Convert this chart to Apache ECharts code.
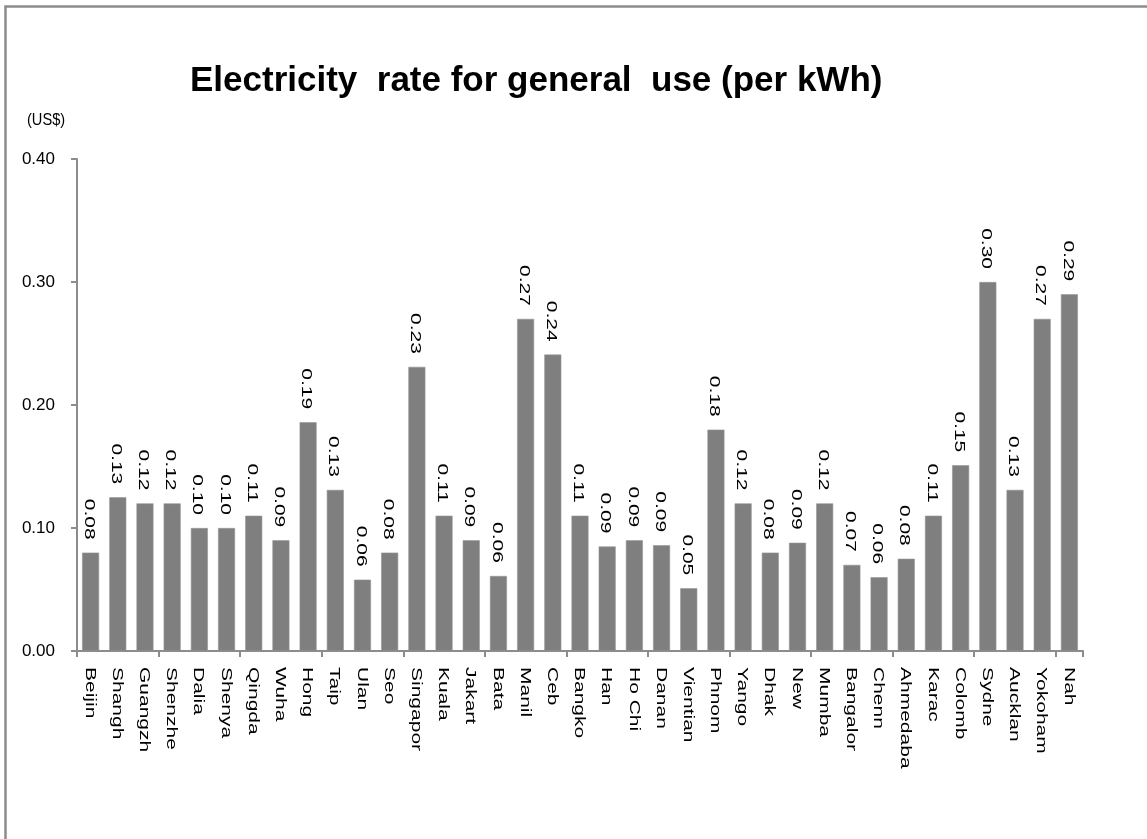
<!DOCTYPE html>
<html>
<head>
<meta charset="utf-8">
<title>Electricity rate for general use</title>
<script src="https://cdn.jsdelivr.net/npm/echarts@6/dist/echarts.min.js"></script>
<style>
  html, body { margin: 0; padding: 0; background: #fff; }
  #chart { width: 1147px; height: 839px; }
</style>
</head>
<body>
<div id="chart"></div>
<script>
// City names as printed under each bar
const cities = [
  'Beijin', 'Shangh', 'Guangzh', 'Shenzhe', 'Dalia', 'Shenya', 'Qingda', 'Wuha',
  'Hong', 'Taip', 'Ulan', 'Seo', 'Singapor', 'Kuala', 'Jakart', 'Bata', 'Manil',
  'Ceb', 'Bangko', 'Han', 'Ho Chi', 'Danan', 'Vientian', 'Phnom', 'Yango', 'Dhak',
  'New', 'Mumba', 'Bangalor', 'Chenn', 'Ahmedaba', 'Karac', 'Colomb', 'Sydne',
  'Aucklan', 'Yokoham', 'Nah'
];

// Electricity rate for general use, US$ per kWh
const rates = [
  0.080, 0.125, 0.120, 0.120, 0.100, 0.100, 0.110, 0.090,
  0.186, 0.131, 0.058, 0.080, 0.231, 0.110, 0.090, 0.061, 0.270,
  0.241, 0.110, 0.085, 0.090, 0.086, 0.051, 0.180, 0.120, 0.080,
  0.088, 0.120, 0.070, 0.060, 0.075, 0.110, 0.151, 0.300,
  0.131, 0.270, 0.290
];

// Value axis ticks
const yTicks = [0, 0.1, 0.2, 0.3, 0.4];

const FONT = "'Liberation Sans', Arial, sans-serif";
const STRETCH = 1.5;   // rotated labels are drawn elongated along their reading direction

const fmt = v => (Math.round(v * 100 + 1e-9) / 100).toFixed(2);

const chart = echarts.init(document.getElementById('chart'), null, { renderer: 'canvas' });

const option = {
  animation: false,
  backgroundColor: '#ffffff',
  grid: { left: 77, right: 64, top: 159, bottom: 188, containLabel: false },
  graphic: [
    {
      type: 'rect',
      shape: { x: 5.5, y: 6.5, width: 1300, height: 1000 },
      style: { fill: 'none', stroke: '#8c8c8c', lineWidth: 2.5 },
      silent: true
    },
    {
      type: 'text',
      x: 190, y: 81,
      style: {
        text: 'Electricity  rate for general  use (per kWh)',
        font: 'bold 35px ' + FONT,
        fill: '#000',
        align: 'left',
        verticalAlign: 'middle'
      }
    },
    {
      type: 'text',
      x: 27, y: 120,
      scaleX: 0.86,
      style: {
        text: '(US$)',
        font: '17px ' + FONT,
        fill: '#000',
        align: 'left',
        verticalAlign: 'middle'
      }
    }
  ],
  xAxis: {
    type: 'category',
    data: cities,
    boundaryGap: true,
    axisLine: { show: true, lineStyle: { color: '#8c8c8c', width: 2 } },
    axisTick: { show: true, alignWithLabel: false, length: 6, lineStyle: { color: '#8c8c8c', width: 2 } },
    axisLabel: { show: false },
    splitLine: { show: false }
  },
  yAxis: {
    type: 'value',
    min: yTicks[0],
    max: yTicks[yTicks.length - 1],
    interval: 0.1,
    axisLine: { show: true, lineStyle: { color: '#8c8c8c', width: 2 } },
    axisTick: { show: true, inside: false, length: 6, lineStyle: { color: '#8c8c8c', width: 2 } },
    axisLabel: {
      margin: 22,
      fontSize: 17,
      fontFamily: FONT,
      color: '#000',
      formatter: v => v.toFixed(2)
    },
    splitLine: { show: false }
  },
  series: [
    {
      name: 'rate',
      type: 'bar',
      data: rates,
      barWidth: 17,
      itemStyle: { color: '#7f7f7f', borderColor: '#969696', borderWidth: 0.6 },
      silent: true
    },
    {
      // value labels, read top to bottom above each bar
      name: 'values',
      type: 'custom',
      clip: false,
      silent: true,
      data: rates.map((v, i) => [i, v]),
      renderItem: (params, api) => {
        const v = api.value(1);
        const p = api.coord([api.value(0), v]);
        return {
          type: 'text',
          x: p[0] - 2,
          y: p[1] - 13,
          rotation: -Math.PI / 2,
          scaleX: STRETCH,
          style: {
            text: fmt(v),
            font: '14px ' + FONT,
            fill: '#000',
            align: 'right',
            verticalAlign: 'middle'
          }
        };
      }
    },
    {
      // city names under the axis, read top to bottom
      name: 'cities',
      type: 'custom',
      clip: false,
      silent: true,
      data: cities.map((c, i) => [i, 0]),
      renderItem: (params, api) => {
        const p = api.coord([api.value(0), 0]);
        return {
          type: 'text',
          x: p[0] - 1,
          y: p[1] + 16,
          rotation: -Math.PI / 2,
          scaleX: STRETCH,
          style: {
            text: cities[params.dataIndex],
            font: '14px ' + FONT,
            fill: '#000',
            align: 'left',
            verticalAlign: 'middle'
          }
        };
      }
    }
  ]
};

chart.setOption(option);
</script>
</body>
</html>
